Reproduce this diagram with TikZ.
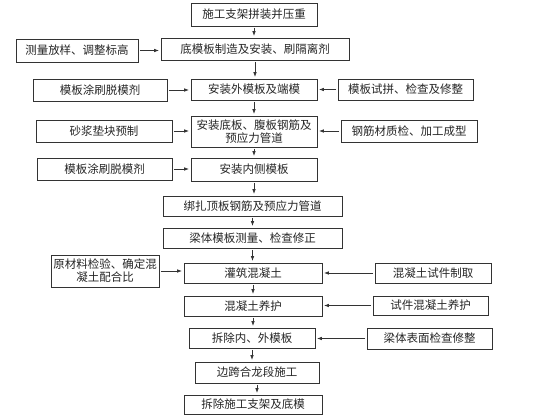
\documentclass[tikz,border=0pt]{standalone}
\usepackage{fontspec}
\setmainfont{Noto Sans CJK SC}
\usetikzlibrary{arrows.meta}
\begin{document}
\begin{tikzpicture}[x=1pt,y=-1pt,
  box/.style={draw=black!80,line width=0.8pt,inner sep=0pt,align=center,
    font=\fontsize{11.5}{13}\selectfont,text=black!85},
  arr/.style={draw=black!80,line width=0.8pt,-{Latex[length=5pt,width=3.6pt]},shorten >=1.5pt,shorten <=1.5pt}]
\useasboundingbox[fill=white] (0,0) rectangle (560,420);
\node[box,minimum width=126pt,minimum height=23pt] (b1) at (254,14.5) {施工支架拼装并压重};
\node[box,minimum width=188pt,minimum height=22pt] (b2) at (255,49) {底模板制造及安装、刷隔离剂};
\node[box,minimum width=122pt,minimum height=23pt] (l2) at (77,50.5) {测量放样、调整标高};
\node[box,minimum width=126pt,minimum height=21pt] (b3) at (254,89.5) {安装外模板及端模};
\node[box,minimum width=134pt,minimum height=22pt] (l3) at (100,90) {模板涂刷脱模剂};
\node[box,minimum width=135pt,minimum height=21pt] (r3) at (405.5,89.5) {模板试拼、检查及修整};
\node[box,minimum width=126pt,minimum height=31pt] (b4) at (254,131.5) {安装底板、腹板钢筋及\\预应力管道};
\node[box,minimum width=136pt,minimum height=22pt] (l4) at (104,131) {砂浆垫块预制};
\node[box,minimum width=136pt,minimum height=22pt] (r4) at (409,131) {钢筋材质检、加工成型};
\node[box,minimum width=126pt,minimum height=23pt] (b5) at (254,169.5) {安装内侧模板};
\node[box,minimum width=135pt,minimum height=22pt] (l5) at (104.5,169) {模板涂刷脱模剂};
\node[box,minimum width=179pt,minimum height=20pt] (b6) at (252.5,206) {绑扎顶板钢筋及预应力管道};
\node[box,minimum width=179pt,minimum height=20pt] (b7) at (252.5,238) {梁体模板测量、检查修正};
\node[box,minimum width=138pt,minimum height=20pt] (b8) at (253,273) {灌筑混凝土};
\node[box,minimum width=108pt,minimum height=32pt] (l8) at (105,271) {原材料检验、确定混\\凝土配合比};
\node[box,minimum width=116pt,minimum height=20pt] (r8) at (433,273) {混凝土试件制取};
\node[box,minimum width=138pt,minimum height=20pt] (b9) at (253,306) {混凝土养护};
\node[box,minimum width=115pt,minimum height=19pt] (r9) at (430.5,305.5) {试件混凝土养护};
\node[box,minimum width=126pt,minimum height=20pt] (b10) at (252,338) {拆除内、外模板};
\node[box,minimum width=125pt,minimum height=21pt] (r10) at (429.5,338.5) {梁体表面检查修整};
\node[box,minimum width=124pt,minimum height=21pt] (b11) at (257,372.5) {边跨合龙段施工};
\node[box,minimum width=138pt,minimum height=19pt] (b12) at (253,404.5) {拆除施工支架及底模};
% vertical arrows
\foreach \a/\b in {b1/b2,b2/b3,b3/b4,b4/b5,b5/b6,b6/b7,b7/b8,b8/b9,b9/b10,b10/b11,b11/b12}
  \draw[arr] (\a.south) -- (\a.south |- \b.north);
% side arrows
\foreach \a/\b in {l2/b2,l3/b3,l4/b4,l5/b5,l8/b8}
  \draw[arr] (\a.east) -- (\a.east -| \b.west);
\foreach \a/\b in {r3/b3,r4/b4,r8/b8,r9/b9,r10/b10}
  \draw[arr] (\a.west) -- (\a.west -| \b.east);
\end{tikzpicture}
\end{document}
